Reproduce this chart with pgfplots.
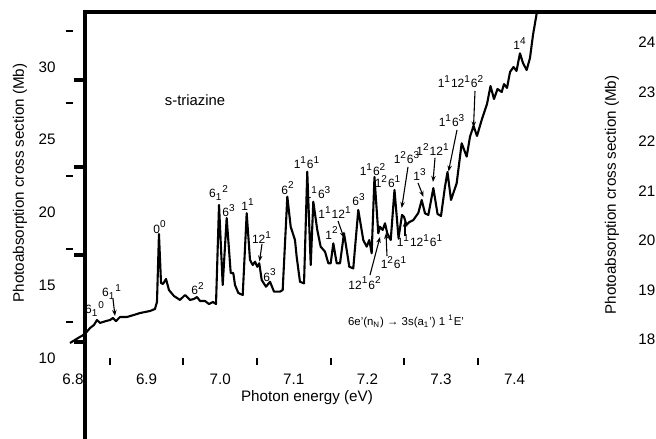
\documentclass[border=0pt]{standalone}
\usepackage{pgfplots}
\pgfplotsset{compat=1.18}
\usepackage{fontspec}
\setmainfont{Liberation Sans}
\usetikzlibrary{arrows.meta}
\newcommand{\su}[1]{\textsuperscript{#1}}
\newcommand{\sd}[1]{\textsubscript{#1}}
\pgfplotstableread{
E v
6.7959 11.03
6.8068 11.37
6.8163 11.65
6.8231 12.06
6.8285 12.27
6.8326 12.61
6.8367 12.41
6.8448 12.54
6.8503 12.61
6.8543 12.75
6.8584 12.54
6.8639 12.82
6.8734 12.82
6.8829 12.96
6.8910 13.09
6.9046 13.23
6.9114 13.37
6.9141 13.85
6.9168 18.52
6.9196 15.15
6.9223 15.09
6.9264 15.43
6.9304 14.67
6.9372 14.26
6.9454 13.99
6.9522 14.33
6.9590 13.99
6.9644 14.06
6.9685 14.19
6.9726 13.92
6.9793 13.92
6.9848 13.71
6.9902 13.85
6.9943 13.71
6.9984 20.52
7.0034 15.02
7.0088 19.62
7.0143 15.84
7.0178 15.84
7.0201 15.02
7.0246 14.47
7.0306 14.33
7.0360 19.95
7.0405 16.74
7.0442 16.39
7.0473 16.62
7.0504 16.27
7.0531 16.51
7.0564 15.36
7.0622 14.90
7.0677 15.24
7.0731 14.56
7.0813 14.56
7.0849 14.67
7.0912 21.09
7.0958 19.02
7.1016 18.11
7.1039 16.96
7.1084 15.24
7.1139 15.13
7.1183 22.80
7.1230 16.39
7.1265 20.74
7.1319 18.80
7.1365 17.65
7.1424 17.31
7.1469 16.51
7.1501 16.51
7.1537 17.88
7.1583 16.51
7.1628 16.51
7.1682 18.57
7.1719 17.42
7.1754 16.27
7.1808 16.16
7.1876 20.17
7.1944 18.11
7.1990 17.65
7.2026 18.11
7.2058 17.20
7.2096 22.44
7.2148 18.57
7.2171 19.02
7.2208 18.80
7.2239 19.26
7.2270 18.57
7.2317 18.11
7.2368 21.55
7.2423 18.25
7.2470 19.83
7.2497 19.71
7.2531 19.14
7.2572 19.35
7.2624 19.48
7.2692 19.97
7.2738 20.86
7.2783 19.94
7.2828 19.83
7.2896 21.68
7.2953 19.90
7.3000 19.76
7.3054 21.77
7.3088 22.78
7.3136 20.86
7.3213 22.01
7.3281 24.76
7.3349 23.84
7.3394 25.21
7.3442 25.95
7.3489 25.26
7.3553 26.36
7.3625 27.46
7.3673 28.69
7.3720 27.80
7.3768 28.49
7.3825 28.28
7.3856 28.83
7.3897 28.56
7.3938 29.66
7.3985 30.00
7.4026 29.73
7.4073 30.94
7.4114 30.27
7.4164 29.79
7.4209 30.62
7.4250 32.20
7.4304 33.80
}\spectrum
\begin{document}
\begin{tikzpicture}
\begin{axis}[
  name=main,
  scale only axis, width=291.5pt, height=179pt,
  xmin=6.8, xmax=7.59212, ymin=10, ymax=34.6048,
  clip=false,
  axis line style={draw=none},
  tick pos=left, tick align=outside,
  xtick={6.8,6.9,7.0,7.1,7.2,7.3,7.4},
  xticklabels={6.8,6.9,7.0,7.1,7.2,7.3,7.4},
  minor xtick={6.85,6.95,7.05,7.15,7.25,7.35},
  ytick={10,15,20,25,30},
  yticklabels={10,15,20,25,30},
  minor ytick={12.5,17.5,22.5,27.5,32.5},
  major tick length=0pt,
  minor tick length=3.3pt,
  minor tick style={line width=0.9pt, black},
  tick label style={font=\fontsize{7.6}{9}\selectfont, black},
  xticklabel style={yshift=-4.6pt},
  yticklabel style={xshift=-5.2pt},
  xlabel={Photon energy (eV)},
  every axis x label/.style={at={(axis description cs:0.4014,-0.1117)}, anchor=center, font=\fontsize{7.6}{9}\selectfont},
  ylabel={Photoabsorption cross section (Mb)},
  every axis y label/.style={at={(axis description cs:-0.0909,0.4888)}, rotate=90, anchor=center, font=\fontsize{7.6}{9}\selectfont},
]
\coordinate (BL) at (axis cs:6.70082,4.5017);
\coordinate (TR) at (axis cs:7.59212,34.6048);
% frame lines
\draw[line width=2pt, line cap=rect] (axis cs:7.6,33.80) -- (axis cs:6.81671,33.80) -- (axis cs:6.81671,4.4);
\draw[line width=2pt] (axis cs:6.80136,29.107) -- (axis cs:6.81671,29.107);
\draw[line width=2pt] (axis cs:6.80136,23.127) -- (axis cs:6.81671,23.127);
\draw[line width=2pt] (axis cs:6.80136,17.079) -- (axis cs:6.81671,17.079);
\draw[line width=2pt] (axis cs:6.80136,11.100) -- (axis cs:6.81671,11.100);
\addplot[black, line width=1.05pt, line join=round, mark=none] table[x=E, y=v] {\spectrum};
% text
\node[font=\fontsize{7.4}{9}\selectfont] at (axis cs:6.96576,27.73) {s-triazine};
\node[font=\fontsize{5.7}{7}\selectfont] at (axis cs:7.25245,12.54) {6e'(n\sd{N}) → 3s(a\sd{1}') 1 \su{1}E'};
\begin{scope}[every node/.style={font=\fontsize{6}{7}\selectfont, inner sep=0.5pt}]
\node at (axis cs:6.82989,13.37) {6\sd{1}\su{0}};
\node at (axis cs:6.85299,14.54) {6\sd{1}\su{1}};
\node at (axis cs:6.91821,19.00) {0\su{0}};
\node at (axis cs:6.96984,14.74) {6\su{2}};
\node at (axis cs:6.99837,21.34) {6\sd{1}\su{2}};
\node at (axis cs:7.01196,20.10) {6\su{3}};
\node at (axis cs:7.03777,20.52) {1\su{1}};
\node at (axis cs:7.05679,18.25) {12\su{1}};
\node at (axis cs:7.06766,15.70) {6\su{3}};
\node at (axis cs:7.09212,21.68) {6\su{2}};
\node at (axis cs:7.11793,23.40) {1\su{1}6\su{1}};
\node at (axis cs:7.13288,21.34) {1\su{1}6\su{3}};
\node at (axis cs:7.15190,18.59) {1\su{2}};
\node at (axis cs:7.15598,19.97) {1\su{1}12\su{1}};
\node at (axis cs:7.18859,20.86) {6\su{3}};
\node at (axis cs:7.20761,22.92) {1\su{1}6\su{2}};
\node at (axis cs:7.19674,15.15) {12\su{1}6\su{2}};
\node at (axis cs:7.22799,22.10) {1\su{2}6\su{1}};
\node at (axis cs:7.23614,16.53) {1\su{2}6\su{1}};
\node at (axis cs:7.25380,23.75) {1\su{2}6\su{3}};
\node at (axis cs:7.27147,18.04) {1\su{1}12\su{1}6\su{1}};
\node at (axis cs:7.27147,22.58) {1\su{3}};
\node at (axis cs:7.28913,24.30) {1\su{2}12\su{1}};
\node at (axis cs:7.31495,26.29) {1\su{1}6\su{3}};
\node at (axis cs:7.32717,28.97) {1\su{1}12\su{1}6\su{2}};
\node at (axis cs:7.40734,31.58) {1\su{4}};
\end{scope}
\begin{scope}[line width=0.55pt, -{Stealth[length=3pt,width=2.2pt]}]
\draw (axis cs:6.85435,14.05) -- (axis cs:6.85707,12.89);
\draw (axis cs:7.05679,17.84) -- (axis cs:7.05340,16.63);
\draw (axis cs:7.16005,19.42) -- (axis cs:7.16821,18.25);
\draw (axis cs:7.20353,15.70) -- (axis cs:7.21712,18.32);
\draw (axis cs:7.22663,17.01) -- (axis cs:7.22527,18.59);
\draw (axis cs:7.25516,23.13) -- (axis cs:7.24660,20.31);
\draw (axis cs:7.25109,18.38) -- (axis cs:7.25109,19.42);
\draw (axis cs:7.26875,22.03) -- (axis cs:7.27622,21.07);
\draw (axis cs:7.29185,23.75) -- (axis cs:7.28913,22.10);
\draw (axis cs:7.32174,25.67) -- (axis cs:7.31019,22.82);
\draw (axis cs:7.34620,28.35) -- (axis cs:7.34416,25.84);
\end{scope}
\end{axis}
\begin{axis}[
  at={(main.south west)}, anchor=south west,
  scale only axis, width=291.5pt, height=179pt,
  xmin=0, xmax=1, ymin=17.623, ymax=24.856,
  axis line style={draw=none},
  xtick=\empty,
  ytick={18,19,20,21,22,23,24},
  yticklabels={18,19,20,21,22,23,24},
  ytick pos=right, yticklabel pos=right,
  major tick length=0pt,
  tick label style={font=\fontsize{7.6}{9}\selectfont, black},
  yticklabel style={anchor=center, xshift=-4.6pt},
  ylabel={Photoabsorption cross section (Mb)},
  every axis y label/.style={at={(axis description cs:0.9245,0.4553)}, rotate=90, anchor=center, font=\fontsize{7.6}{9}\selectfont},
]
\end{axis}
\pgfresetboundingbox
\path[use as bounding box] (BL) rectangle (TR);
\end{tikzpicture}
\end{document}
